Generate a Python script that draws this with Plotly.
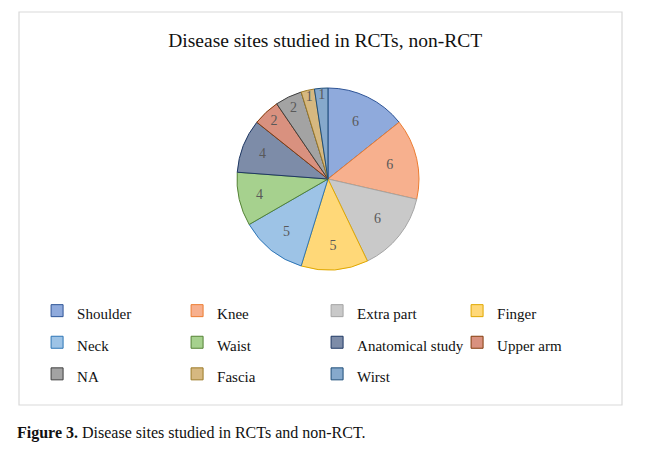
import plotly.graph_objects as go

# Disease sites studied in RCTs and non-RCT
SITES = ['Shoulder', 'Knee', 'Extra part', 'Finger', 'Neck', 'Waist',
         'Anatomical study', 'Upper arm', 'NA', 'Fascia', 'Wirst']
COUNTS = [6, 6, 6, 5, 5, 4, 4, 2, 2, 1, 1]

FILLS = ['#8FAADC', '#F7B08E', '#C9C9C9', '#FFD878', '#9DC3E6', '#A6D18E',
         '#7D8CA8', '#D9917F', '#A3A3A3', '#D6B880', '#86A9CC']
EDGES = ['#2F5597', '#ED7D31', '#A5A5A5', '#E0A800', '#2E75B6', '#548235',
         '#1F3864', '#843C0C', '#404040', '#9C7A28', '#1F4E79']

SERIF = 'Liberation Serif'

# legend font is big only to space the rows; the label text itself is 15px
legend_labels = ['<span style="font-size:15px">%s</span>' % s for s in SITES]

pie = go.Pie(
    labels=legend_labels,
    values=COUNTS,
    text=[str(c) for c in COUNTS],
    textinfo='text',
    textposition='inside',
    insidetextorientation='horizontal',
    sort=False,
    direction='clockwise',
    marker=dict(colors=FILLS, line=dict(color=EDGES, width=1)),
    textfont=dict(family=SERIF, size=14, color='#595959'),
    domain=dict(x=[0.3615, 0.6633], y=[0.3435, 0.8066]),
    hoverinfo='skip',
)

fig = go.Figure(data=[pie])

# page body adds an 8px offset, so margins are pulled in by 8px
fig.update_layout(
    width=650, height=465,
    margin=dict(l=11, r=36, t=4, b=68),
    paper_bgcolor='white', plot_bgcolor='white',
    font=dict(family=SERIF, color='#111111'),
    title=dict(text='Disease sites studied in RCTs, non-RCT',
               x=0.488, xanchor='center', y=0.931, yanchor='middle',
               font=dict(family=SERIF, size=19.5, color='#111111')),
    showlegend=True,
    legend=dict(orientation='h', x=0.03, xanchor='left',
                y=0.293, yanchor='top', entrywidth=95,
                font=dict(family=SERIF, size=22, color='#111111'),
                bgcolor='rgba(0,0,0,0)'),
    uniformtext=dict(minsize=14, mode='show'),
    shapes=[dict(type='rect', xref='paper', yref='paper', x0=0, x1=1, y0=0, y1=1,
                 line=dict(color='#D9D9D9', width=1.2), layer='below')],
    annotations=[dict(text='<b>Figure 3.</b> Disease sites studied in RCTs and non-RCT.',
                      xref='paper', yref='paper', x=-0.007, y=-0.071,
                      xanchor='left', yanchor='middle', showarrow=False,
                      font=dict(family=SERIF, size=16, color='#111111'))],
)

fig.write_html('out.html')
